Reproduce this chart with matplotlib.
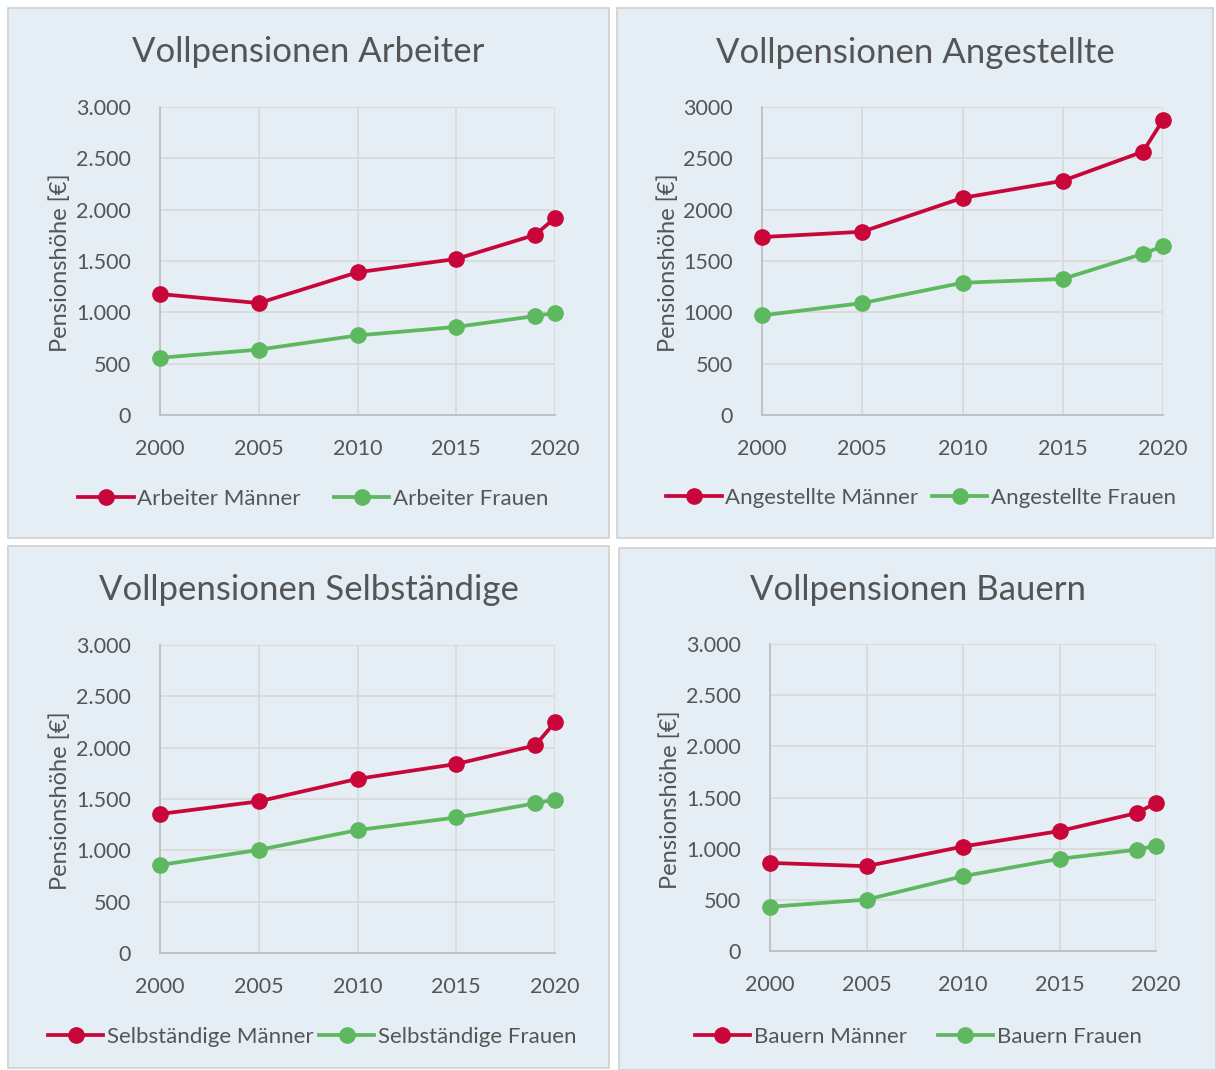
import numpy as np
import matplotlib
matplotlib.use("Agg")
import matplotlib.pyplot as plt
from matplotlib.patches import Rectangle
from matplotlib.ticker import FuncFormatter, MultipleLocator

# data (Euro per month)
years = [2000, 2005, 2010, 2015, 2019, 2020]

arbeiter_m = [1178, 1090, 1390, 1520, 1755, 1920]
arbeiter_f = [557, 637, 775, 858, 964, 994]

angestellte_m = [1733, 1785, 2115, 2281, 2565, 2874]
angestellte_f = [970, 1090, 1288, 1325, 1570, 1645]

selbst_m = [1354, 1477, 1696, 1841, 2022, 2248]
selbst_f = [857, 1004, 1197, 1320, 1458, 1494]

bauern_m = [861, 829, 1021, 1172, 1348, 1448]
bauern_f = [432, 502, 731, 901, 990, 1030]

groups = ["Arbeiter", "Angestellte", "Selbständige", "Bauern"]
titles = ["Vollpensionen " + g for g in groups]
men = [arbeiter_m, angestellte_m, selbst_m, bauern_m]
women = [arbeiter_f, angestellte_f, selbst_f, bauern_f]
dot_sep = [True, False, True, True]

RED = "#C8063A"
GREEN = "#5DB85F"
BG = "#E5EEF4"
TXT = "#555555"
GRID = "#D9D9D9"

plt.rcParams["font.family"] = ["Lato", "DejaVu Sans"]

W, H = 1216, 1070
fig = plt.figure(figsize=(W / 100, H / 100), dpi=100)

# pixel layout: (box x0, y0, x1, y1), (plot x0, y0, x1, y1), ylabel x
boxes = [(8, 8, 609, 538), (617, 8, 1213, 538),
         (8, 546, 609, 1068), (619, 548, 1216, 1070)]
plots = [(160, 107, 555, 415), (762, 107, 1163, 415),
         (160, 645, 555, 953), (770, 644, 1156, 951)]
ylab_x = [60, 668, 60, 670]
title_y = [52, 53, 590, 590]
legend_xy = [(313, 499), (921, 498), (312, 1037), (918, 1037)]
legend_gap = [1.5, 0.6, 0.25, 1.4]


def fx(px):
    return px / W


def fy(py):
    return 1 - py / H


def thousands(v, pos):
    return "{:,.0f}".format(v).replace(",", ".")


for i in range(4):
    bx0, by0, bx1, by1 = boxes[i]
    fig.patches.append(Rectangle((fx(bx0), fy(by1)), fx(bx1 - bx0), (by1 - by0) / H,
                                 transform=fig.transFigure, facecolor=BG,
                                 edgecolor="#D0D0D0", lw=1.2, zorder=-10))

    px0, py0, px1, py1 = plots[i]
    ax = fig.add_axes([fx(px0), fy(py1), fx(px1 - px0), (py1 - py0) / H])
    ax.set_facecolor(BG)
    ax.patch.set_alpha(0)

    ax.plot(years, men[i], color=RED, lw=2.7, marker="o", ms=11,
            label=groups[i] + " Männer", clip_on=False, zorder=4)
    ax.plot(years, women[i], color=GREEN, lw=2.7, marker="o", ms=11,
            label=groups[i] + " Frauen", clip_on=False, zorder=3)

    ax.set_xlim(2000, 2020)
    ax.set_ylim(0, 3000)
    ax.xaxis.set_major_locator(MultipleLocator(5))
    ax.yaxis.set_major_locator(MultipleLocator(500))
    if dot_sep[i]:
        ax.yaxis.set_major_formatter(FuncFormatter(thousands))
    ax.grid(True, color=GRID, lw=1.3)
    ax.set_axisbelow(True)
    for s in ["top", "right"]:
        ax.spines[s].set_visible(False)
    for s in ["left", "bottom"]:
        ax.spines[s].set_color("#BFBFBF")
        ax.spines[s].set_linewidth(1.3)
    ax.tick_params(length=0, labelsize=15.5, labelcolor=TXT)
    ax.tick_params(axis="x", pad=17)
    ax.tick_params(axis="y", pad=21)

    fig.text(fx((bx0 + bx1) / 2), fy(title_y[i]), titles[i], ha="center",
             va="center", fontsize=25, color=TXT)
    fig.text(fx(ylab_x[i]), fy((py0 + py1) / 2 + 2), "Pensionshöhe [€]",
             rotation=90, ha="center", va="center", fontsize=17, color=TXT)

    lx, ly = legend_xy[i]
    ax.legend(loc="center", bbox_to_anchor=(fx(lx), fy(ly)),
              bbox_transform=fig.transFigure, ncol=2, frameon=False,
              fontsize=16, labelcolor=TXT, handlelength=2.5,
              handletextpad=0.15, columnspacing=legend_gap[i], markerscale=1.0)

fig.savefig("out.png", dpi=100, facecolor="white")
